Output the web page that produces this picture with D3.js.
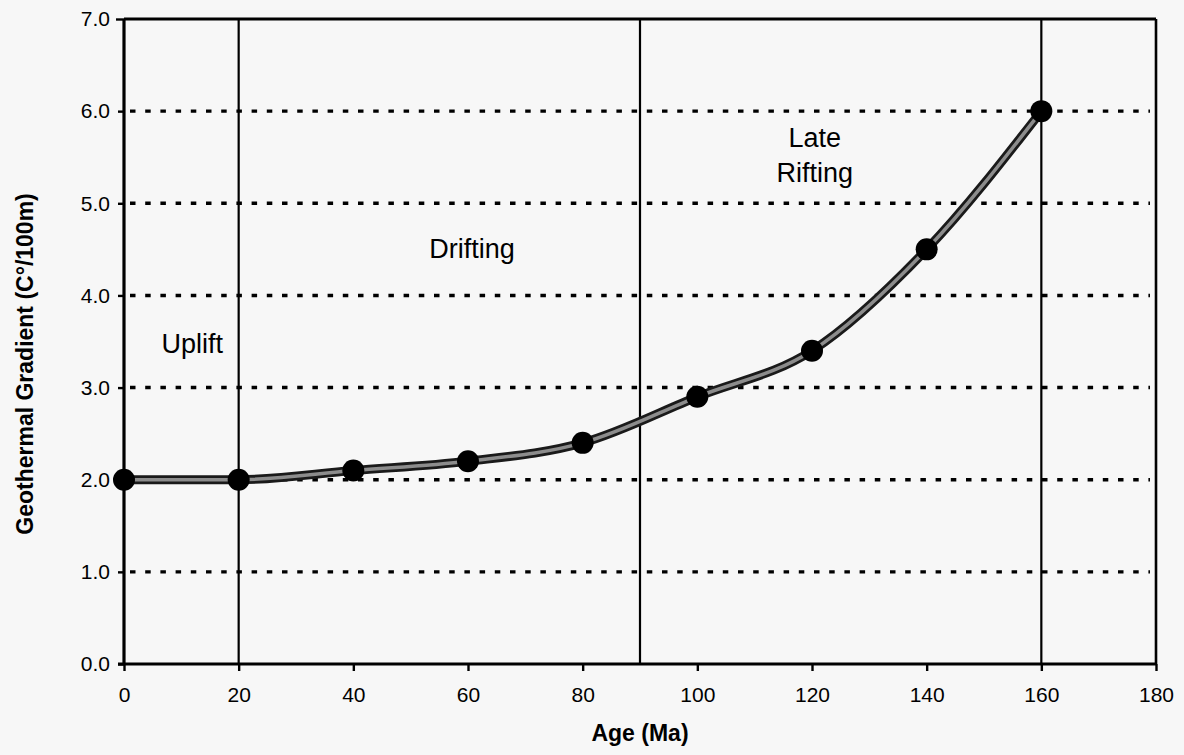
<!DOCTYPE html>
<html><head><meta charset="utf-8">
<script src="https://cdn.jsdelivr.net/npm/d3@7"></script>
<style>body{margin:0;background:#f7f7f7;} svg{display:block;font-family:"Liberation Sans",Arial,sans-serif;}</style>
</head><body><svg id="c" width="1184" height="755"></svg>
<script>
const ages = [0, 20, 40, 60, 80, 100, 120, 140, 160];
const gradients = [2.0, 2.0, 2.1, 2.2, 2.4, 2.9, 3.4, 4.5, 6.0];
const xTicks = [0, 20, 40, 60, 80, 100, 120, 140, 160, 180];
const yTicks = [0, 1, 2, 3, 4, 5, 6, 7];
const dottedY = [1, 2, 3, 4, 5, 6];
const phaseBoundaries = [20, 90, 160];
const phaseLabels = [
  {lines: ["Uplift"], x: 11.9, y: 3.38},
  {lines: ["Drifting"], x: 60.7, y: 4.41},
  {lines: ["Late", "Rifting"], x: 120.5, y: 5.61}
];

const svg = d3.select("#c");
const m = {l: 124, r: 1156, t: 19, b: 664};
const x = d3.scaleLinear().domain([0, 180]).range([m.l, m.r]);
const y = d3.scaleLinear().domain([0, 7]).range([m.b, m.t]);
const FONT = '"Liberation Sans",Arial,sans-serif';

// dotted gridlines
svg.append("g").selectAll("line").data(dottedY).join("line")
  .attr("x1", x(0)).attr("x2", x(180) - 6)
  .attr("y1", d => y(d)).attr("y2", d => y(d))
  .attr("stroke", "#000").attr("stroke-width", 3.4)
  .attr("stroke-dasharray", "5.5 9.7").attr("stroke-dashoffset", -6);

// vertical phase lines
svg.append("g").selectAll("line").data(phaseBoundaries).join("line")
  .attr("x1", d => x(d)).attr("x2", d => x(d))
  .attr("y1", y(7)).attr("y2", y(0))
  .attr("stroke", "#000").attr("stroke-width", 2.2);

// frame top and right
svg.append("line").attr("x1", x(0)).attr("x2", x(180)).attr("y1", y(7)).attr("y2", y(7))
  .attr("stroke", "#000").attr("stroke-width", 3.2);
svg.append("line").attr("x1", x(180)).attr("x2", x(180)).attr("y1", y(7)).attr("y2", y(0))
  .attr("stroke", "#000").attr("stroke-width", 2.6);

// axes
const xAxis = svg.append("g").attr("transform", `translate(0,${y(0)})`)
  .call(d3.axisBottom(x).tickValues(xTicks).tickSize(7).tickPadding(16).tickFormat(d3.format("d")));
const yAxis = svg.append("g").attr("transform", `translate(${x(0)},0)`)
  .call(d3.axisLeft(y).tickValues(yTicks).tickSize(6).tickPadding(8).tickFormat(d3.format(".1f")));
[xAxis, yAxis].forEach(g => {
  g.select(".domain").attr("stroke", "#000").attr("stroke-width", 3.2);
  g.selectAll(".tick line").attr("stroke", "#000").attr("stroke-width", 2.4);
  g.selectAll("text").attr("fill", "#000").style("font-size", "21px").style("font-family", FONT);
});
xAxis.select(".domain").attr("d", `M${x(0) - 6},0H${x(180)}`);
yAxis.select(".domain").attr("d", `M0,${y(0)}V${y(7)}`);
yAxis.selectAll(".tick").filter(d => d === 7).select("line").attr("x2", -8);

// series line
const pts = ages.map((a, i) => [a, gradients[i]]);
const line = d3.line().x(d => x(d[0])).y(d => y(d[1])).curve(d3.curveMonotoneX);
svg.append("path").attr("d", line(pts)).attr("fill", "none")
  .attr("stroke", "#1a1a1a").attr("stroke-width", 9);
svg.append("path").attr("d", line(pts)).attr("fill", "none")
  .attr("stroke", "#8c8c8c").attr("stroke-width", 3.5);

svg.append("g").selectAll("circle").data(pts).join("circle")
  .attr("cx", d => x(d[0])).attr("cy", d => y(d[1])).attr("r", 11).attr("fill", "#000");

// phase labels
const lbl = svg.append("g").selectAll("text").data(phaseLabels).join("text")
  .attr("x", d => x(d.x)).attr("y", d => y(d.y))
  .attr("text-anchor", "middle").style("font-size", "27px").attr("fill", "#000");
lbl.each(function(d) {
  d3.select(this).selectAll("tspan").data(d.lines).join("tspan")
    .attr("x", x(d.x)).attr("dy", (t, i) => i === 0 ? 0 : 35).text(t => t);
});

// axis titles
svg.append("text").attr("x", (x(0) + x(180)) / 2).attr("y", 741)
  .attr("text-anchor", "middle").style("font-size", "23px").style("font-weight", "bold")
  .text("Age (Ma)");
svg.append("text").attr("transform", `translate(33,364) rotate(-90)`)
  .attr("text-anchor", "middle").style("font-size", "23px").style("font-weight", "bold")
  .text("Geothermal Gradient (C°/100m)");
</script></body></html>
